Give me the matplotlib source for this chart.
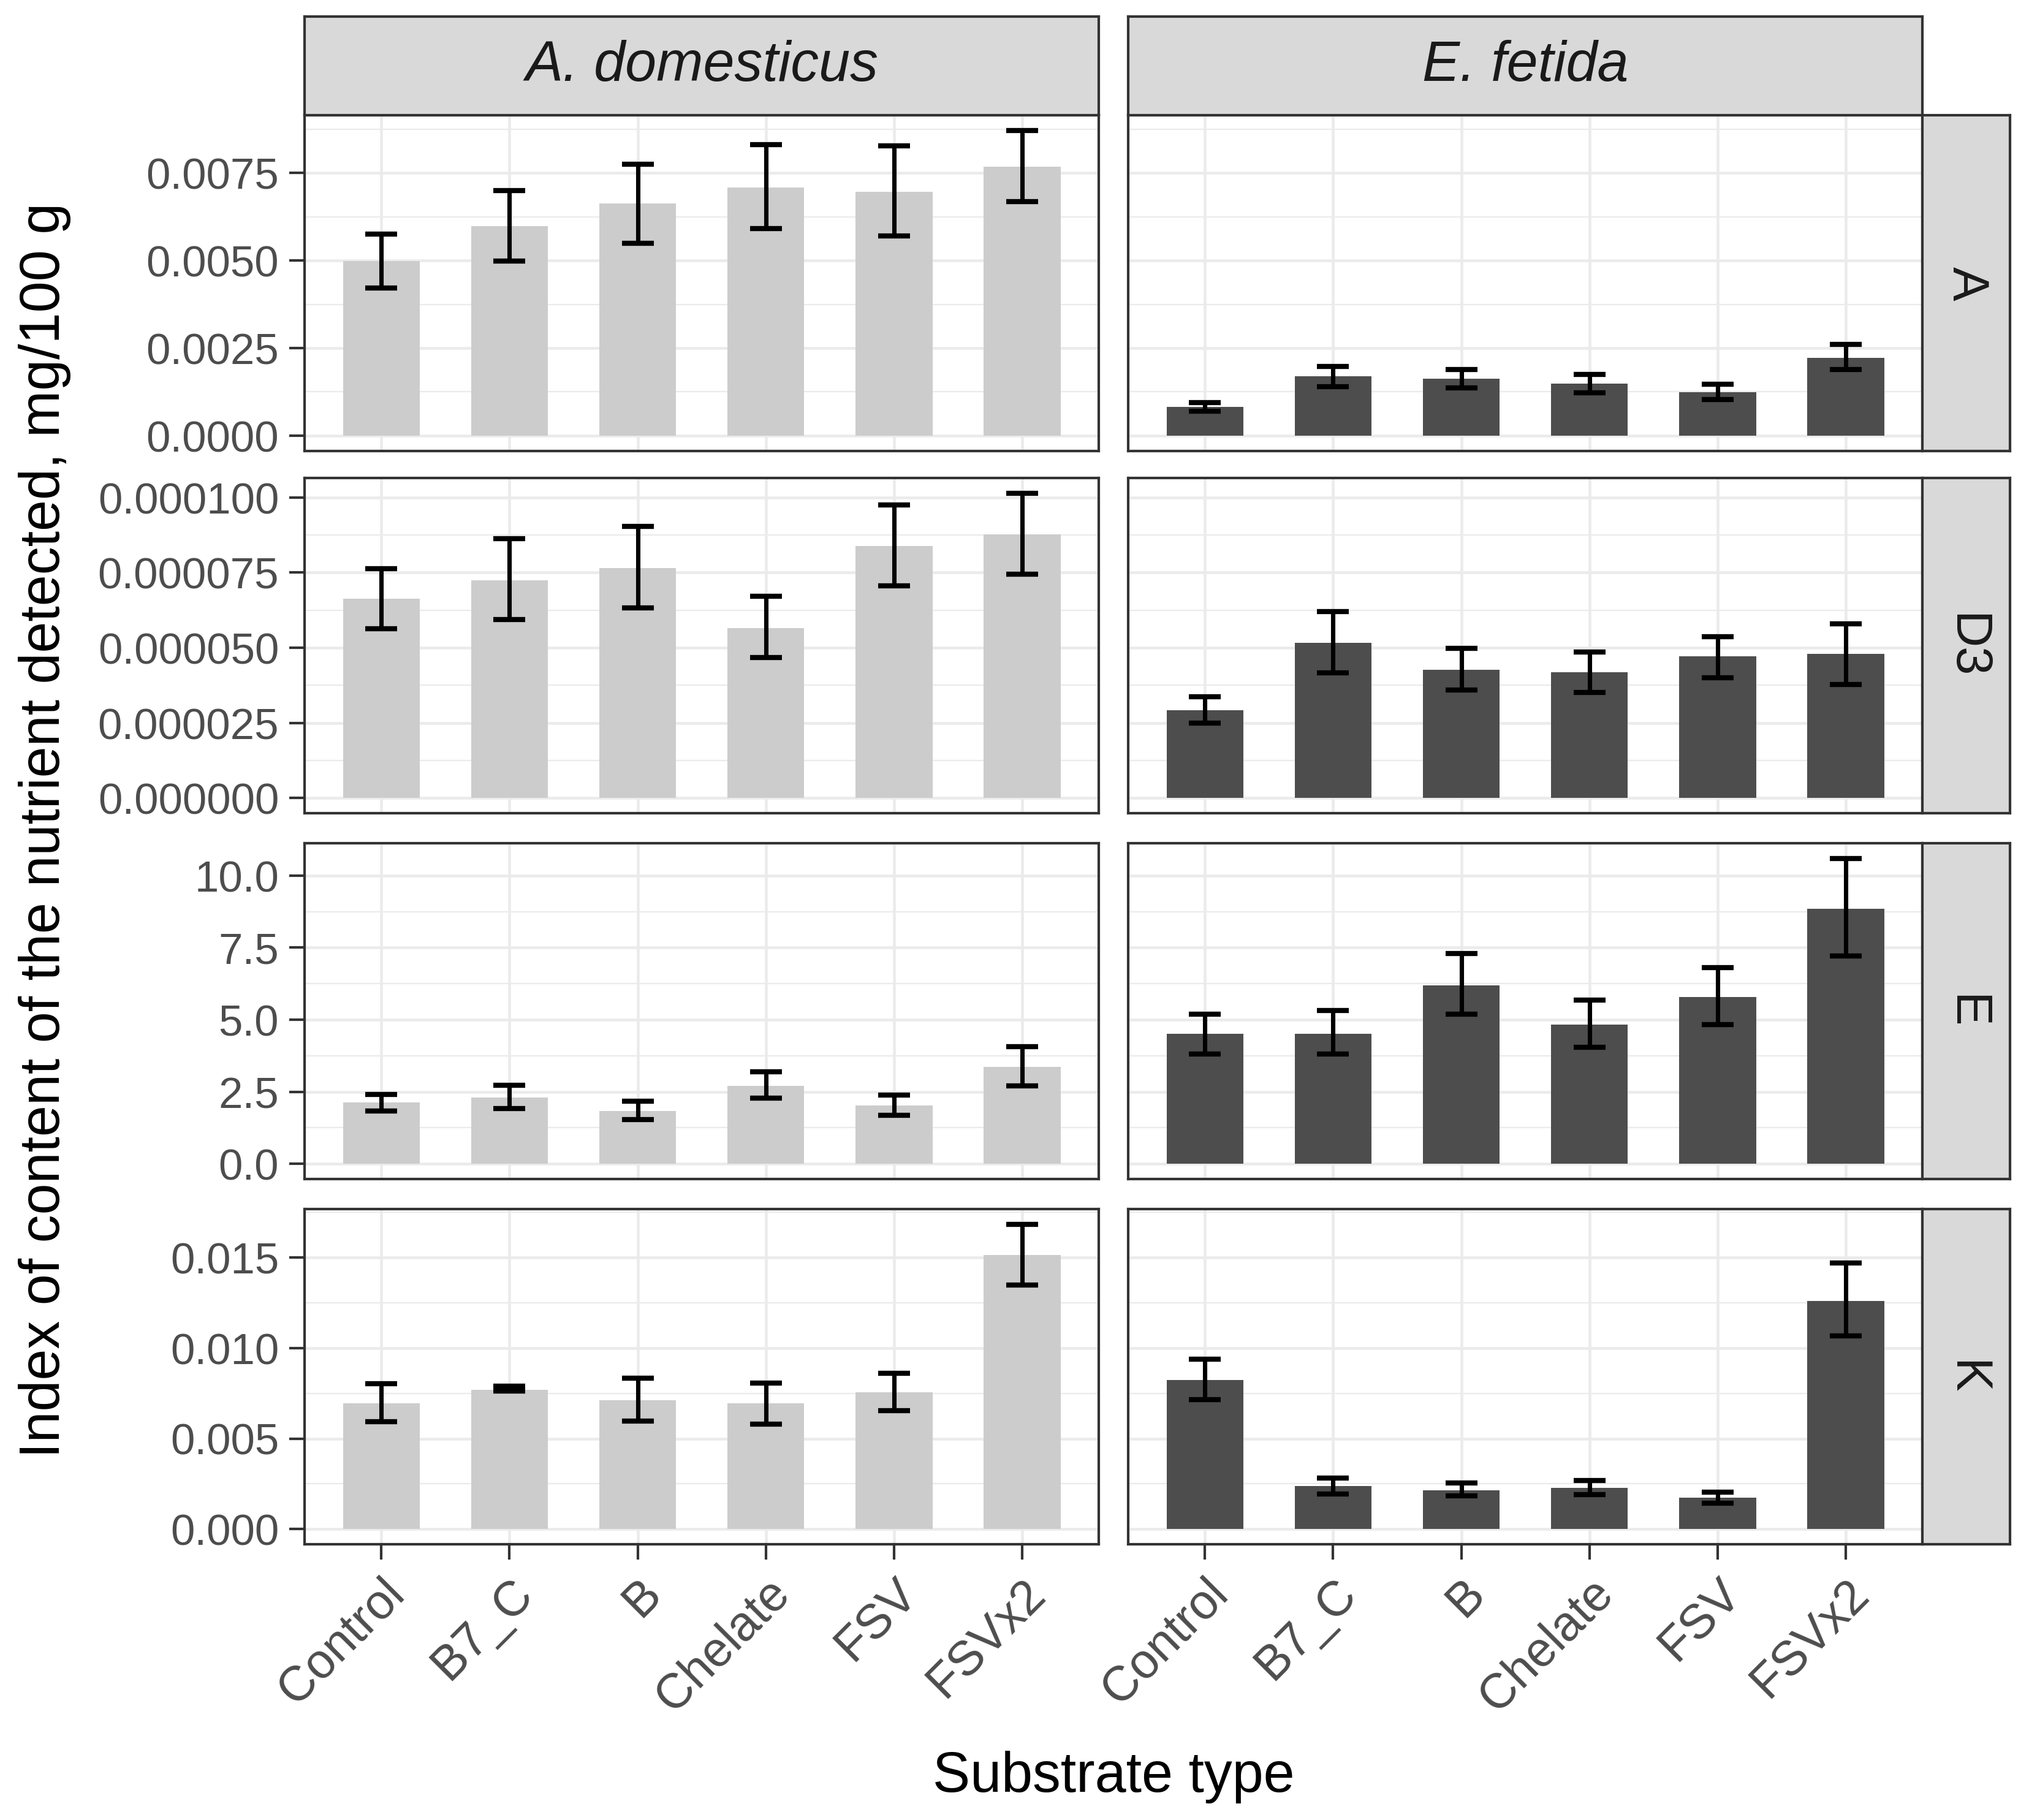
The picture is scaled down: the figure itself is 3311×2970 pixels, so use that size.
import matplotlib
matplotlib.use("Agg")
import matplotlib.pyplot as plt
import numpy as np
from matplotlib.ticker import FixedLocator, FormatStrFormatter

plt.rcParams['font.family'] = ['Liberation Sans', 'DejaVu Sans']

substrates = ['Control', 'B7_C', 'B', 'Chelate', 'FSV', 'FSVx2']
species = ['A. domesticus', 'E. fetida']
nutrients = ['A', 'D3', 'E', 'K']

# means with lower / upper error bar ends
A_dom = [0.00498, 0.00598, 0.00664, 0.00709, 0.00697, 0.00769]
A_dom_lo = [0.00421, 0.00498, 0.00550, 0.00592, 0.00570, 0.00669]
A_dom_hi = [0.00575, 0.00700, 0.00775, 0.00831, 0.00828, 0.00872]
A_fet = [0.00081, 0.00169, 0.00163, 0.00148, 0.00123, 0.00222]
A_fet_lo = [0.00069, 0.00139, 0.00136, 0.00122, 0.00103, 0.00188]
A_fet_hi = [0.00094, 0.00197, 0.00189, 0.00175, 0.00147, 0.00261]

D3_dom = [6.62e-5, 7.25e-5, 7.64e-5, 5.66e-5, 8.39e-5, 8.76e-5]
D3_dom_lo = [5.63e-5, 5.94e-5, 6.33e-5, 4.68e-5, 7.05e-5, 7.45e-5]
D3_dom_hi = [7.63e-5, 8.63e-5, 9.03e-5, 6.71e-5, 9.74e-5, 10.14e-5]
D3_fet = [2.93e-5, 5.17e-5, 4.26e-5, 4.19e-5, 4.71e-5, 4.79e-5]
D3_fet_lo = [2.50e-5, 4.16e-5, 3.60e-5, 3.52e-5, 4.01e-5, 3.77e-5]
D3_fet_hi = [3.37e-5, 6.20e-5, 4.98e-5, 4.86e-5, 5.37e-5, 5.80e-5]

E_dom = [2.12, 2.30, 1.82, 2.70, 2.02, 3.36]
E_dom_lo = [1.84, 1.92, 1.53, 2.27, 1.69, 2.70]
E_dom_hi = [2.41, 2.73, 2.16, 3.20, 2.39, 4.06]
E_fet = [4.51, 4.51, 6.20, 4.83, 5.79, 8.86]
E_fet_lo = [3.81, 3.81, 5.20, 4.04, 4.84, 7.21]
E_fet_hi = [5.20, 5.32, 7.30, 5.69, 6.80, 10.59]

K_dom = [0.00694, 0.00768, 0.00710, 0.00694, 0.00755, 0.01513]
K_dom_lo = [0.00593, 0.00762, 0.00596, 0.00580, 0.00654, 0.01347]
K_dom_hi = [0.00803, 0.00788, 0.00833, 0.00807, 0.00861, 0.01684]
K_fet = [0.00823, 0.00237, 0.00214, 0.00227, 0.00172, 0.01260]
K_fet_lo = [0.00716, 0.00194, 0.00183, 0.00192, 0.00144, 0.01066]
K_fet_hi = [0.00937, 0.00282, 0.00256, 0.00269, 0.00205, 0.01470]

y_ticks = {
    'A': [0, 0.0025, 0.005, 0.0075],
    'D3': [0, 2.5e-5, 5e-5, 7.5e-5, 1e-4],
    'E': [0, 2.5, 5.0, 7.5, 10.0],
    'K': [0, 0.005, 0.010, 0.015],
}
y_fmt = {'A': '%.4f', 'D3': '%.6f', 'E': '%.1f', 'K': '%.3f'}

data = {
    'A': [(A_dom, A_dom_lo, A_dom_hi), (A_fet, A_fet_lo, A_fet_hi)],
    'D3': [(D3_dom, D3_dom_lo, D3_dom_hi), (D3_fet, D3_fet_lo, D3_fet_hi)],
    'E': [(E_dom, E_dom_lo, E_dom_hi), (E_fet, E_fet_lo, E_fet_hi)],
    'K': [(K_dom, K_dom_lo, K_dom_hi), (K_fet, K_fet_lo, K_fet_hi)],
}
bar_colors = ['#CCCCCC', '#4D4D4D']

fig = plt.figure(figsize=(11.04, 9.9033), dpi=300)

col_x = [0.1500, 0.5558]
col_w = 0.3915
row_y = [0.7521, 0.5529, 0.3521, 0.1514]
row_h = 0.1843
strip_x = col_x[1] + col_w
strip_w = 0.0429
top_strip_y = row_y[0] + row_h
top_strip_h = 0.0543

border = '#333333'
grid_c = '#EBEBEB'
tick_c = '#4D4D4D'
x = np.arange(len(substrates))

for r, nut in enumerate(nutrients):
    top = max(max(d[2]) for d in data[nut])
    ylo, yhi = -0.05 * top, top * 1.05
    ticks = y_ticks[nut]
    step = ticks[1] - ticks[0]
    minor = [t for t in np.arange(ticks[0] - step / 2, yhi, step) if ylo < t < yhi]
    for c in range(2):
        ax = fig.add_axes([col_x[c], row_y[r], col_w, row_h])
        mean, lo, hi = data[nut][c]
        mean = np.array(mean)
        ax.bar(x, mean, width=0.6, color=bar_colors[c], zorder=3)
        ax.errorbar(x, mean, yerr=[mean - np.array(lo), np.array(hi) - mean],
                    fmt='none', ecolor='black', elinewidth=1.7, capsize=6.3,
                    capthick=2.0, zorder=4)
        ax.set_xlim(-0.6, len(substrates) - 0.4)
        ax.set_ylim(ylo, yhi)
        ax.yaxis.set_major_locator(FixedLocator(ticks))
        ax.yaxis.set_minor_locator(FixedLocator(minor))
        ax.yaxis.set_major_formatter(FormatStrFormatter(y_fmt[nut]))
        ax.set_xticks(x)
        ax.grid(which='major', color=grid_c, linewidth=1.1, zorder=0)
        ax.grid(which='minor', axis='y', color=grid_c, linewidth=0.55, zorder=0)
        ax.set_axisbelow(True)
        for s in ax.spines.values():
            s.set_color(border)
            s.set_linewidth(1.0)
        ax.tick_params(which='major', length=6, width=1.0, color=border,
                       labelsize=17, labelcolor=tick_c, pad=4)
        ax.tick_params(which='minor', length=0)
        if c == 1:
            ax.tick_params(axis='y', left=False, labelleft=False)
        if r < len(nutrients) - 1:
            ax.tick_params(axis='x', bottom=False, labelbottom=False)
        else:
            ax.set_xticklabels(substrates, rotation=45, ha='right', va='top',
                               rotation_mode='anchor', fontsize=19)

    # right strip
    sax = fig.add_axes([strip_x, row_y[r], strip_w, row_h])
    sax.set_facecolor('#D9D9D9')
    sax.set_xticks([])
    sax.set_yticks([])
    for s in sax.spines.values():
        s.set_color(border)
        s.set_linewidth(1.0)
    sax.text(0.5, 0.5, nut, rotation=-90, ha='center', va='center',
             fontsize=20, color='#1A1A1A', transform=sax.transAxes)

for c, sp in enumerate(species):
    tax = fig.add_axes([col_x[c], top_strip_y, col_w, top_strip_h])
    tax.set_facecolor('#D9D9D9')
    tax.set_xticks([])
    tax.set_yticks([])
    for s in tax.spines.values():
        s.set_color(border)
        s.set_linewidth(1.0)
    tax.text(0.5, 0.5, sp, style='italic', ha='center', va='center',
             fontsize=22, color='#1A1A1A', transform=tax.transAxes)

fig.text(0.022, row_y[3] + (row_y[0] + row_h - row_y[3]) / 2,
         'Index of content of the nutrient detected, mg/100 g',
         rotation=90, ha='center', va='center', fontsize=22)
fig.text(col_x[0] + (strip_x - col_x[0]) / 2, 0.024, 'Substrate type',
         ha='center', va='center', fontsize=22)

fig.savefig('out.png', dpi=300, facecolor='white')
